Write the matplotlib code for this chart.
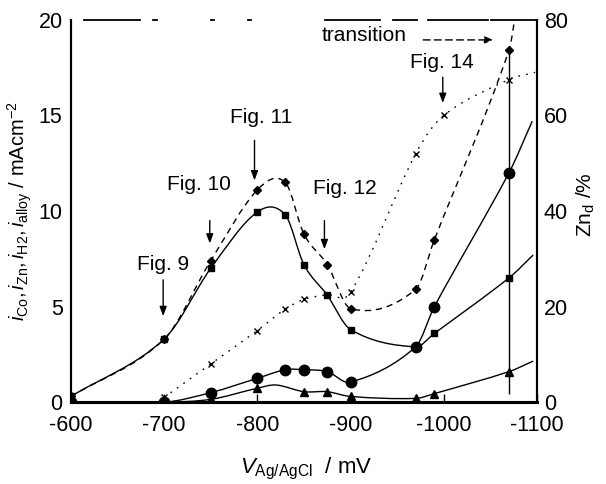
import numpy as np
import matplotlib
matplotlib.use('Agg')
import matplotlib.pyplot as plt
from matplotlib.path import Path
from matplotlib.patches import PathPatch

plt.rcParams['font.family'] = ['Liberation Sans', 'DejaVu Sans']
plt.rcParams['mathtext.fontset'] = 'custom'
plt.rcParams['mathtext.rm'] = 'Liberation Sans'
plt.rcParams['mathtext.it'] = 'Liberation Sans:italic'
plt.rcParams['lines.scale_dashes'] = False
plt.rcParams['axes.unicode_minus'] = False

# potentials in mV vs Ag/AgCl, currents in mA cm-2, Zn content in %
# (last entry of each series is where the curve runs out of the frame)
v_alloy = [-600, -700, -750, -800, -830, -850, -875, -900, -970, -990, -1070, -1080]
i_alloy = [0.3, 3.3, 7.4, 11.1, 11.5, 8.8, 7.2, 4.9, 5.9, 8.5, 18.4, 21.3]

v_co = [-600, -700, -750, -800, -830, -850, -875, -900, -970, -990, -1070, -1096]
i_co = [0.3, 3.3, 7.0, 9.95, 9.8, 7.2, 5.6, 3.8, 2.9, 3.6, 6.5, 7.7]

v_zn = [-600, -700, -750, -800, -830, -850, -875, -900, -970, -990, -1070, -1095]
i_zn = [0.0, 0.0, 0.5, 1.25, 1.7, 1.7, 1.6, 1.05, 2.9, 5.0, 12.0, 14.7]

v_h2 = [-600, -700, -750, -800, -820, -850, -875, -900, -970, -990, -1070, -1096]
i_h2 = [0.0, 0.0, 0.15, 0.73, 0.9, 0.55, 0.55, 0.3, 0.2, 0.45, 1.6, 2.15]
h2_marked = [0, 1, 2, 3, 5, 6, 7, 8, 9, 10]

v_znd = [-700, -750, -800, -830, -850, -875, -900, -970, -1000, -1070, -1098]
zn_d = [1.0, 8.0, 15.0, 19.5, 21.5, 22.5, 23.0, 52.0, 60.0, 67.5, 69.0]

v_transition = -1070
transition_span = (0.45, 18.4)

fig_notes = ['Fig. 9', 'Fig. 10', 'Fig. 11', 'Fig. 12', 'Fig. 14']
note_text_xy = [(-699, 7.2), (-737, 11.4), (-804, 14.9), (-894, 11.2), (-998, 17.75)]
note_arrow = [(-699, 6.4, 4.5), (-749, 9.5, 8.3), (-797, 13.7, 11.6),
              (-872, 9.5, 8.0), (-999, 17.0, 15.65)]


def smooth_path(x, y):
    # piecewise cubic through the points, drawn as Bezier segments
    x = np.asarray(x, float)
    y = np.asarray(y, float)
    n = len(x)
    m = np.empty(n)
    m[1:-1] = (y[2:] - y[:-2]) / (x[2:] - x[:-2])
    m[0] = (y[1] - y[0]) / (x[1] - x[0])
    m[-1] = (y[-1] - y[-2]) / (x[-1] - x[-2])
    verts = [(x[0], y[0])]
    codes = [Path.MOVETO]
    for i in range(n - 1):
        h = x[i + 1] - x[i]
        verts += [(x[i] + h / 3, y[i] + m[i] * h / 3),
                  (x[i + 1] - h / 3, y[i + 1] - m[i + 1] * h / 3),
                  (x[i + 1], y[i + 1])]
        codes += [Path.CURVE4] * 3
    return Path(verts, codes)


def curve(axis, x, y, ls, marker, ms, marked=None, mew=1.0):
    axis.add_patch(PathPatch(smooth_path(x, y), fill=False, lw=1.0,
                             ls=ls, edgecolor='k'))
    if marked is None:
        marked = list(range(len(x) - 1))
    axis.plot(x, y, ls='none', marker=marker, ms=ms, color='k',
              mew=mew, markevery=marked)


fig = plt.figure(figsize=(6.06, 4.84), dpi=100)
ax = fig.add_axes([0.117, 0.169, 0.769, 0.790])
ax2 = ax.twinx()

ax.set_xlim(-600, -1100)
ax.set_ylim(0, 20)
ax2.set_ylim(0, 80)

curve(ax, v_alloy, i_alloy, (0, (4.5, 3.5)), 'D', 4.5)
curve(ax, v_co, i_co, '-', 's', 5)
curve(ax, v_zn, i_zn, '-', 'o', 7.5)
curve(ax, v_h2, i_h2, '-', '^', 6, marked=h2_marked)
curve(ax2, v_znd, zn_d, (0, (1.2, 4.5)), 'x', 5)

ax.vlines(v_transition, *transition_span, color='k', lw=1.0)

for label, (tx, ty), (axx, y0, y1) in zip(fig_notes, note_text_xy, note_arrow):
    ax.text(tx, ty, label, fontsize=15, ha='center', va='center')
    ax.annotate('', xy=(axx, y1), xytext=(axx, y0),
                arrowprops=dict(arrowstyle='-|>,head_length=0.4,head_width=0.15',
                                lw=1.0, color='k', shrinkA=0, shrinkB=0,
                                mutation_scale=14))

ax.text(-915, 19.2, 'transition', fontsize=15, ha='center', va='center')
ax.annotate('', xy=(-1053, 18.95), xytext=(-978, 18.95),
            arrowprops=dict(arrowstyle='-|>,head_length=0.35,head_width=0.15',
                            lw=1.0, color='k', ls=(0, (5, 3)), shrinkA=0,
                            shrinkB=0, mutation_scale=14))

ax.set_xticks([-600, -700, -800, -900, -1000, -1100])
ax.set_yticks([0, 5, 10, 15, 20])
ax2.set_yticks([0, 20, 40, 60, 80])
ax.tick_params(axis='x', direction='in', length=6, width=1, pad=9,
               labelsize=15.5)
ax.tick_params(axis='y', length=0, pad=6, labelsize=15.5)
ax2.tick_params(axis='y', length=0, pad=5, labelsize=15.5)

ax.set_xlabel(r'$V_{\rm Ag/AgCl}$  / mV', fontsize=16)
ax.xaxis.set_label_coords(0.506, -0.14)
ax.set_ylabel(r'$i_{\rm Co}, i_{\rm Zn}, i_{\rm H2}, i_{\rm alloy}$ / mAcm$^{-2}$',
              fontsize=14.5)
ax.yaxis.set_label_coords(-0.08, 0.5)
ax2.set_ylabel(r'Zn$_{\rm d}$ /%', fontsize=15)
ax2.yaxis.set_label_coords(1.082, 0.516)

for a in (ax, ax2):
    a.spines['left'].set_linewidth(1.5)
    a.spines['right'].set_linewidth(1.5)
    a.spines['bottom'].set_linewidth(2.2)
ax2.spines['top'].set_visible(False)

# broken frame line along the top, lengths in px converted to pt
top_px = [56, 13, 4, 54, 3, 34, 3, 74, 55, 13, 24, 11, 60, 3, 46, 100]
top_pt = [p * 0.72 for p in top_px]
ax.spines['top'].set_linewidth(1.3)
ax.spines['top'].set_linestyle((sum(top_pt) - 13 * 0.72, top_pt))

fig.savefig('out.png', dpi=100)
